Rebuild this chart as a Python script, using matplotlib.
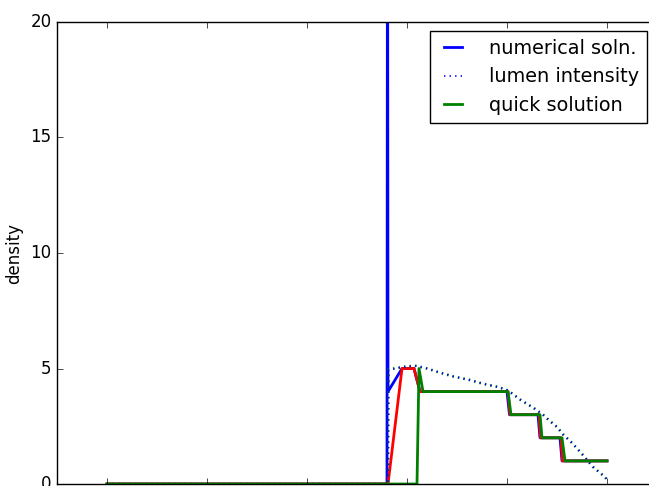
import numpy as np
from matplotlib import pyplot as plt

plt.style.use('classic')

# numerical solution (blue), with the spike at the front
x_num = [0.0, 0.560, 0.561, 0.562, 0.590, 0.614, 0.626, 0.800, 0.805,
         0.862, 0.866, 0.906, 0.910, 1.0]
y_num = [0, 0, 30, 4, 5, 5, 4, 4, 3, 3, 2, 2, 1, 1]

# red trace (unlabelled)
x_red = [0.0, 0.562, 0.590, 0.614, 0.626, 0.802, 0.806, 0.864, 0.867,
         0.908, 0.911, 1.0]
y_red = [0, 0, 5, 5, 4, 4, 3, 3, 2, 2, 1, 1]

# quick solution (green)
x_quick = [0.0, 0.620, 0.624, 0.632, 0.802, 0.808, 0.866, 0.870, 0.910,
           0.916, 1.0]
y_quick = [0, 0, 5, 4, 4, 3, 3, 2, 2, 1, 1]

# lumen intensity (dotted)
x_lum = [0.0, 0.562, 0.563, 0.592, 0.616, 0.640, 0.666, 0.692, 0.726,
         0.752, 0.782, 0.802, 0.826, 0.856, 0.872, 0.886, 0.900, 0.912,
         0.930, 0.950, 0.972, 0.996, 1.0]
y_lum = [0, 0, 4.95, 5.07, 5.12, 5.0, 4.82, 4.66, 4.5, 4.34, 4.2, 4.05,
         3.66, 3.25, 3.0, 2.72, 2.47, 2.15, 1.78, 1.3, 0.74, 0.3, 0.18]

fig = plt.figure(figsize=(6.49, 4.86), dpi=100)
# axes runs past the right edge of the figure, like the cropped original
ax = fig.add_axes([57/649, 2/486, 650/649, 462/486])

ax.plot(x_num, y_num, 'b-', lw=2, label='numerical soln.')
ax.plot(x_red, y_red, 'r-', lw=2)
ax.plot(x_lum, y_lum, 'g:', lw=2)
ax.plot(x_lum, y_lum, 'b:', lw=1.2, label='lumen intensity')
ax.plot(x_quick, y_quick, 'g-', lw=2, label='quick solution')

ax.set_xticks(np.arange(0, 1.01, 0.2))
ax.set_yticks([0, 5, 10, 15, 20])
ax.set_xlim(-0.1, -0.1 + 650/500)
ax.set_ylim(0, 20)
ax.set_ylabel('density')
ax.legend(loc='upper right', fontsize=13.9, handlelength=1.55,
          handletextpad=1.1, borderaxespad=0,
          bbox_to_anchor=(647/649, 1 - 31/486),
          bbox_transform=fig.transFigure)

fig.savefig('out.png', dpi=100)
